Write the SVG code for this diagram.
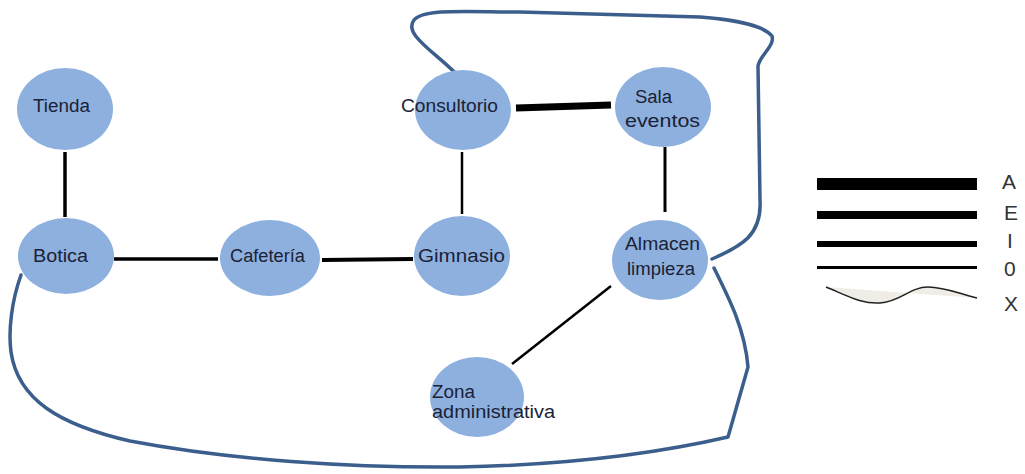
<svg xmlns="http://www.w3.org/2000/svg" width="1025" height="474" viewBox="0 0 1025 474">
<style>
.node ellipse{fill:#8db0df}
.node text{font-family:"Liberation Sans",Arial,sans-serif;font-size:18px;fill:#1b2236}
.e{stroke:#000;fill:none;stroke-linecap:butt}
.loop{stroke:#3b5e8c;stroke-width:3.5;fill:none;stroke-linecap:round;stroke-linejoin:round}
.leg text{font-family:"Liberation Sans",Arial,sans-serif;font-size:21px;fill:#333}
</style>
<rect width="1025" height="474" fill="#fff"/>
<g id="connectors">
<line class="e" x1="65" y1="152" x2="65" y2="217" stroke-width="3.5"/>
<line class="e" x1="114" y1="259" x2="218" y2="259" stroke-width="3.5"/>
<line class="e" x1="322" y1="260" x2="413" y2="259" stroke-width="4"/>
<line class="e" x1="462" y1="152" x2="462" y2="214" stroke-width="2.5"/>
<line class="e" x1="516" y1="108" x2="611" y2="105" stroke-width="7"/>
<line class="e" x1="665" y1="147" x2="665" y2="212" stroke-width="3"/>
<line class="e" x1="611" y1="286" x2="512" y2="364" stroke-width="2.5"/>
<path class="loop" d="M460,78 C440,55 402,35 414,20 C424,8 470,12 520,12 L700,17 C740,20 765,27 772,36 C775,46 760,55 758,66 L760,200 C762,235 742,246 712,259"/>
<path class="loop" d="M21,275 C12,300 8,330 11,352 C18,400 60,425 130,441 C230,460 350,468 460,467 C560,465 650,455 728,437 L748,367 C745,330 730,300 714,268"/>
</g>
<g id="tienda" class="node"><ellipse cx="65" cy="109" rx="48" ry="41"/><text x="33" y="112" textLength="57" lengthAdjust="spacingAndGlyphs">Tienda</text></g>
<g id="botica" class="node"><ellipse cx="66" cy="256" rx="48" ry="38"/><text x="33" y="262" textLength="55" lengthAdjust="spacingAndGlyphs">Botica</text></g>
<g id="cafeteria" class="node"><ellipse cx="270" cy="258" rx="50" ry="38"/><text x="230" y="262" textLength="75" lengthAdjust="spacingAndGlyphs">Cafetería</text></g>
<g id="gimnasio" class="node"><ellipse cx="462" cy="256" rx="48" ry="40"/><text x="418" y="262" textLength="87" lengthAdjust="spacingAndGlyphs">Gimnasio</text></g>
<g id="consultorio" class="node"><ellipse cx="463" cy="110" rx="48" ry="40"/><text x="401" y="112" textLength="97" lengthAdjust="spacingAndGlyphs">Consultorio</text></g>
<g id="sala" class="node"><ellipse cx="663" cy="107" rx="48" ry="40"/><text x="635" y="103" textLength="37" lengthAdjust="spacingAndGlyphs">Sala</text><text x="625" y="127" textLength="75" lengthAdjust="spacingAndGlyphs">eventos</text></g>
<g id="almacen" class="node"><ellipse cx="660" cy="260" rx="48" ry="40"/><text x="625" y="250" textLength="75" lengthAdjust="spacingAndGlyphs">Almacen</text><text x="627" y="275" textLength="68" lengthAdjust="spacingAndGlyphs">limpieza</text></g>
<g id="zona" class="node"><ellipse cx="477" cy="397" rx="47" ry="40"/><text x="432" y="398" textLength="43" lengthAdjust="spacingAndGlyphs">Zona</text><text x="432" y="418" textLength="123" lengthAdjust="spacingAndGlyphs">administrativa</text></g>
<g id="legend" class="leg">
<rect x="817" y="178" width="160" height="12" fill="#000"/>
<rect x="817" y="211" width="160" height="8" fill="#000"/>
<rect x="817" y="241" width="160" height="6" fill="#000"/>
<rect x="817" y="266" width="160" height="3" fill="#000"/>
<path d="M826,287 C850,297 862,304 880,303 C900,302 910,287 928,287 C945,287 960,294 977,298 Z" fill="#efede6" stroke="none"/>
<path d="M826,287 C850,297 862,304 880,303 C900,302 910,287 928,287 C945,287 960,294 977,298" fill="none" stroke="#222" stroke-width="1.5"/>
<text x="1002" y="189">A</text>
<text x="1004" y="220">E</text>
<text x="1007" y="248">I</text>
<text x="1004" y="276">0</text>
<text x="1004" y="311">X</text>
</g>
</svg>
